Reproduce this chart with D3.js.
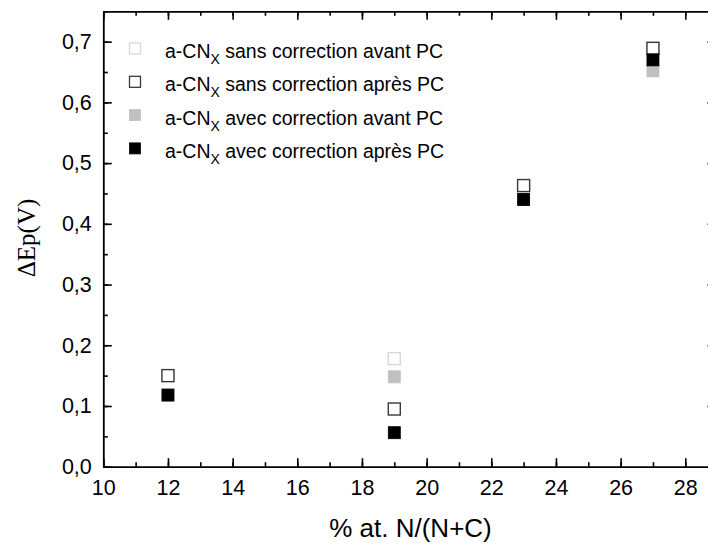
<!DOCTYPE html>
<html>
<head>
<meta charset="utf-8">
<script src="https://cdn.jsdelivr.net/npm/d3@7"></script>
<style>
  html, body { margin: 0; padding: 0; background: #fff; }
  svg { display: block; }
  text { font-family: "Liberation Sans", Arial, sans-serif; fill: #000; }
</style>
</head>
<body>
<script>
// ---- data ----
const xValues = [12, 19, 23, 27];
const seriesNames = [
  "sans correction avant PC",
  "sans correction après PC",
  "avec correction avant PC",
  "avec correction après PC"
];
const sansAvant = [0.150, 0.178, 0.463, 0.689];
const sansApres = [0.150, 0.095, 0.463, 0.689];
const avecAvant = [0.118, 0.148, 0.440, 0.652];
const avecApres = [0.118, 0.056, 0.440, 0.670];
const xTicks = [10, 12, 14, 16, 18, 20, 22, 24, 26, 28];
const yTicks = [0, 0.1, 0.2, 0.3, 0.4, 0.5, 0.6, 0.7];
const xTitle = "% at. N/(N+C)";
const yTitle = "\u0394Ep(V)";

// ---- styles ----
const styles = [
  { fill: "#ffffff", stroke: "#d8d8d8" },
  { fill: "#ffffff", stroke: "#3a3a3a" },
  { fill: "#c0c0c0", stroke: "#c0c0c0" },
  { fill: "#000000", stroke: "#000000" }
];
const allSeries = [sansAvant, sansApres, avecAvant, avecApres];

const W = 708, H = 544;
const margin = { left: 103.3, top: 11.3, right: 716, bottom: 466.7 };

const svg = d3.select("body").append("svg").attr("width", W).attr("height", H);

const x = d3.scaleLinear().domain([10, 28.95]).range([margin.left, margin.right]);
const y = d3.scaleLinear().domain([0, 0.75]).range([margin.bottom, margin.top]);

// markers
const msize = 12;
allSeries.forEach((vals, i) => {
  const st = styles[i];
  svg.append("g").selectAll("rect")
    .data(xValues.map((xv, j) => ({ x: xv, y: vals[j] })))
    .join("rect")
    .attr("x", d => x(d.x) - msize / 2)
    .attr("y", d => y(d.y) - msize / 2)
    .attr("width", msize).attr("height", msize)
    .attr("fill", st.fill)
    .attr("stroke", st.stroke)
    .attr("stroke-width", i < 2 ? 1.4 : 0.8);
});

// axes (inward ticks)
const xMinor = d3.range(10, 29.01, 1);
const yMinor = d3.range(0, 0.7501, 0.05);
const axW = 1.8;

function styleAxis(g) {
  g.selectAll("path").attr("stroke", "#000").attr("stroke-width", axW);
  g.selectAll("line").attr("stroke", "#000").attr("stroke-width", 1.6);
}

// bottom minor + major
const gB = svg.append("g").attr("transform", `translate(0,${margin.bottom})`);
gB.call(d3.axisBottom(x).tickValues(xMinor).tickSize(-4.5).tickFormat("").tickSizeOuter(0)).call(styleAxis);
const gB2 = svg.append("g").attr("transform", `translate(0,${margin.bottom})`);
gB2.call(d3.axisBottom(x).tickValues(xTicks).tickSize(-8.5).tickPadding(13.5).tickSizeOuter(0)).call(styleAxis);
gB2.select("path").remove();
gB2.selectAll("text").attr("font-size", 21.5).attr("font-family", "Liberation Sans, Arial, sans-serif").attr("fill", "#000");

// top
const gT = svg.append("g").attr("transform", `translate(0,${margin.top})`);
gT.call(d3.axisTop(x).tickValues(xMinor).tickSize(-4.5).tickFormat("").tickSizeOuter(0)).call(styleAxis);
const gT2 = svg.append("g").attr("transform", `translate(0,${margin.top})`);
gT2.call(d3.axisTop(x).tickValues(xTicks).tickSize(-8.5).tickFormat("").tickSizeOuter(0)).call(styleAxis);
gT2.select("path").remove();

// left
const fmt = d => d3.format(".1f")(d).replace(".", ",");
const gL = svg.append("g").attr("transform", `translate(${margin.left},0)`);
gL.call(d3.axisLeft(y).tickValues(yMinor).tickSize(-4.5).tickFormat("").tickSizeOuter(0)).call(styleAxis);
const gL2 = svg.append("g").attr("transform", `translate(${margin.left},0)`);
gL2.call(d3.axisLeft(y).tickValues(yTicks).tickSize(-8.5).tickPadding(11.5).tickFormat(fmt).tickSizeOuter(0)).call(styleAxis);
gL2.select("path").remove();
gL2.selectAll("text").attr("font-size", 21.5).attr("font-family", "Liberation Sans, Arial, sans-serif").attr("fill", "#000");

// right
const gR = svg.append("g").attr("transform", `translate(${margin.right},0)`);
gR.call(d3.axisRight(y).tickValues(yMinor).tickSize(-4.5).tickFormat("").tickSizeOuter(0)).call(styleAxis);
const gR2 = svg.append("g").attr("transform", `translate(${margin.right},0)`);
gR2.call(d3.axisRight(y).tickValues(yTicks).tickSize(-8.5).tickFormat("").tickSizeOuter(0)).call(styleAxis);
gR2.select("path").remove();

// titles
svg.append("text")
  .attr("x", 410.5)
  .attr("y", 536.5)
  .attr("text-anchor", "middle")
  .attr("font-size", 26)
  .text(xTitle);

svg.append("text")
  .attr("transform", `translate(35,238) rotate(-90)`)
  .attr("text-anchor", "middle")
  .style("font-family", "'Liberation Serif', 'Times New Roman', serif")
  .attr("font-size", 25)
  .text(yTitle);

// legend
const legY = [48.5, 81.8, 115.1, 148.4];
const leg = svg.append("g");
seriesNames.forEach((name, i) => {
  const st = styles[i];
  leg.append("rect")
    .attr("x", 135 - 5.5).attr("y", legY[i] - 5.5)
    .attr("width", 11).attr("height", 11)
    .attr("fill", st.fill).attr("stroke", st.stroke)
    .attr("stroke-width", i < 2 ? 1.3 : 0.8);
  const t = leg.append("text")
    .attr("x", 165).attr("y", legY[i] + 9.5)
    .attr("font-size", 19.5);
  t.append("tspan").text("a-CN");
  t.append("tspan").attr("dy", 6).attr("font-size", 14).text("X");
  t.append("tspan").attr("dy", -6).text(" " + name);
});
</script>
</body>
</html>
